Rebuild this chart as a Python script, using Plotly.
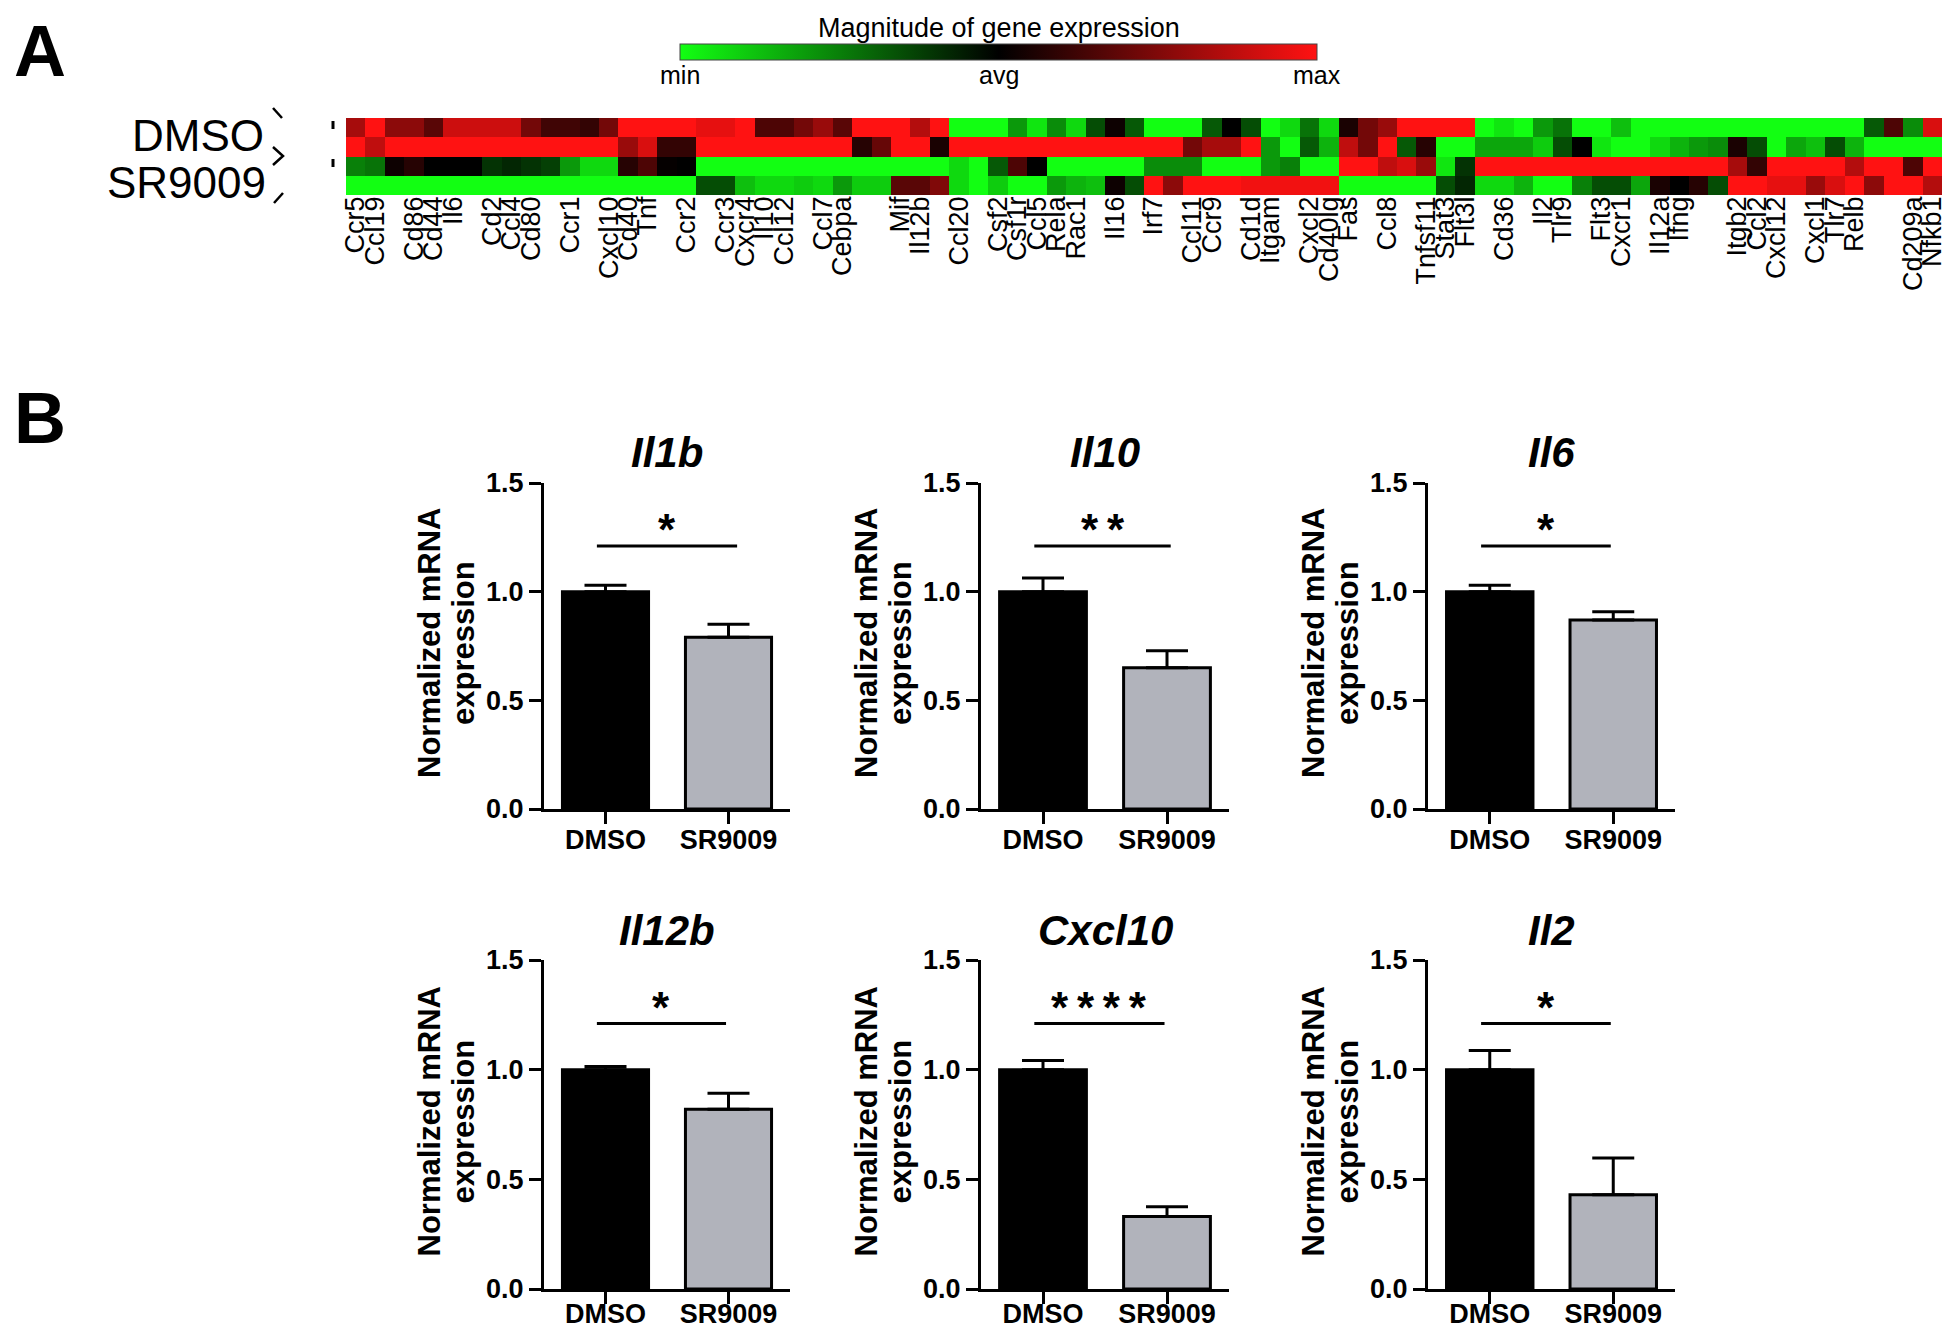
import plotly.graph_objects as go

# page is 1950x1333; the browser body offsets the figure by 8px (top/left)
OFF = 8
W, H = 1950 - OFF, 1333 - OFF
FONT = "Liberation Sans, Arial, Helvetica, sans-serif"

# ---------------- Panel A data: clustergram (4 samples x 82 genes) ----------------
gene_labels = [
    "Ccr5", "Ccl19", "", "Cd86", "Cd44", "Il6", "", "Cd2", "Ccl4", "Cd80",
    "", "Ccr1", "", "Cxcl10", "Cd40", "Tnf", "", "Ccr2", "", "Ccr3",
    "Cxcr4", "Il10", "Ccl12", "", "Ccl7", "Cebpa", "", "", "Mif", "Il12b",
    "", "Ccl20", "", "Csf2", "Csf1r", "Ccl5", "Rela", "Rac1", "", "Il16",
    "", "Irf7", "", "Ccl11", "Ccr9", "", "Cd1d", "Itgam", "", "Cxcl2",
    "Cd40lg", "Fas", "", "Ccl8", "", "Tnfsf11", "Stat3", "Flt3l", "", "Cd36",
    "", "Il2", "Tlr9", "", "Flt3", "Cxcr1", "", "Il12a", "Ifng", "",
    "", "Itgb2", "Ccl2", "Cxcl12", "", "Cxcl1", "Tlr7", "Relb", "", "",
    "Cd209a", "Nfkb1",
]

dmso_1 = [
    0.65, 1.0, 0.55, 0.55, 0.35, 0.8, 0.8, 0.8, 0.8, 0.45,
    0.25, 0.25, 0.2, 0.45, 1.0, 1.0, 1.0, 1.0, 0.9, 0.9,
    1.0, 0.3, 0.3, 0.45, 0.6, 0.35, 1.0, 1.0, 1.0, 0.7,
    1.0, -1.0, -1.0, -1.0, -0.6, -0.9, -0.55, -0.85, -0.3, 0.05,
    -0.35, -1.0, -1.0, -1.0, -0.35, 0.0, -0.3, -1.0, -0.85, -0.45,
    -0.85, 0.1, 0.45, 0.6, 1.0, 1.0, 1.0, 1.0, -1.0, -0.9,
    -1.0, -0.6, -0.45, -1.0, -1.0, -0.75, -1.0, -1.0, -1.0, -1.0,
    -1.0, -1.0, -1.0, -1.0, -1.0, -1.0, -1.0, -1.0, -0.35, 0.3,
    -0.55, 0.85,
]
dmso_2 = [
    1.0, 0.75, 1.0, 1.0, 1.0, 1.0, 1.0, 1.0, 1.0, 1.0,
    1.0, 1.0, 1.0, 1.0, 0.6, 0.85, 0.2, 0.2, 1.0, 1.0,
    1.0, 1.0, 1.0, 1.0, 1.0, 1.0, 0.15, 0.4, 1.0, 1.0,
    0.1, 1.0, 1.0, 1.0, 1.0, 1.0, 1.0, 1.0, 1.0, 1.0,
    1.0, 1.0, 1.0, 0.45, 0.65, 0.65, 1.0, -0.6, -1.0, -0.35,
    -0.7, 0.75, 0.45, 1.0, -0.35, 0.15, -1.0, -1.0, -0.65, -0.65,
    -0.65, -0.8, -0.3, 0.0, -0.9, -1.0, -1.0, -0.85, -0.7, -0.6,
    -0.55, 0.1, -0.3, -1.0, -0.65, -0.75, -0.3, -0.7, -1.0, -1.0,
    -1.0, -1.0,
]
sr9009_1 = [
    -0.5, -0.45, 0.05, 0.15, 0.0, 0.0, 0.0, -0.2, -0.15, -0.2,
    -0.25, -0.6, -0.85, -0.85, 0.15, 0.3, 0.02, 0.0, -1.0, -1.0,
    -1.0, -1.0, -1.0, -1.0, -1.0, -1.0, -1.0, -1.0, -1.0, -1.0,
    -1.0, -0.85, -1.0, -0.35, 0.3, 0.0, -1.0, -1.0, -1.0, -1.0,
    -1.0, -0.55, -0.55, -0.55, -1.0, -1.0, -1.0, -0.6, -0.5, -1.0,
    -1.0, 1.0, 1.0, 0.75, 0.85, 0.6, -0.9, -0.2, 1.0, 1.0,
    1.0, 1.0, 1.0, 1.0, 1.0, 1.0, 1.0, 1.0, 1.0, 1.0,
    1.0, 0.65, 0.2, 1.0, 1.0, 1.0, 1.0, 0.7, 1.0, 1.0,
    0.3, 1.0,
]
sr9009_2 = [
    -1.0, -1.0, -1.0, -1.0, -1.0, -1.0, -1.0, -1.0, -1.0, -1.0,
    -1.0, -1.0, -1.0, -1.0, -1.0, -1.0, -1.0, -1.0, -0.3, -0.3,
    -0.75, -0.85, -0.85, -0.8, -0.85, -0.6, -0.8, -0.8, 0.35, 0.35,
    0.5, -0.85, -1.0, -0.8, -1.0, -1.0, -0.6, -0.7, -0.75, 0.05,
    -0.3, 1.0, 0.55, 1.0, 1.0, 1.0, 0.95, 0.95, 0.95, 0.95,
    0.95, -1.0, -1.0, -1.0, -1.0, -1.0, -0.3, -0.15, -0.85, -0.85,
    -0.7, -1.0, -1.0, -0.5, -0.3, -0.3, -0.65, 0.1, 0.0, 0.15,
    -0.3, 1.0, 1.0, 0.9, 0.9, 0.6, 0.85, 1.0, 0.55, 1.0,
    1.0, 0.7,
]
sample_rows = ["DMSO", "DMSO", "SR9009", "SR9009"]
scale_ticks = ["min", "avg", "max"]

# ---------------- Panel B data: qPCR bar charts ----------------
panel_genes = ["Il1b", "Il10", "Il6", "Il12b", "Cxcl10", "Il2"]
groups = ["DMSO", "SR9009"]
dmso_mean = [1.0, 1.0, 1.0, 1.0, 1.0, 1.0]
sr_mean = [0.79, 0.65, 0.87, 0.82, 0.33, 0.43]
dmso_sem = [0.03, 0.063, 0.03, 0.015, 0.042, 0.087]
sr_sem = [0.06, 0.078, 0.038, 0.073, 0.045, 0.167]
signif = ["*", "**", "*", "*", "****", "*"]
sig_level = 1.21
y_ticks = [0.0, 0.5, 1.0, 1.5]


def px(x):
    """page x pixel -> paper fraction"""
    return (x - OFF) / W


def py(y):
    """page y pixel -> paper fraction"""
    return 1 - (y - OFF) / H


fig = go.Figure()

# ---------- heatmap ----------
ncol = len(gene_labels)
fig.add_trace(go.Heatmap(
    z=[dmso_1, dmso_2, sr9009_1, sr9009_2],
    x=list(range(ncol)),
    y=list(range(len(sample_rows))),
    zmin=-1, zmax=1,
    colorscale=[[0, "#12ff12"], [0.5, "#000000"], [1, "#ff1212"]],
    xaxis="x", yaxis="y",
    hoverinfo="skip",
    colorbar=dict(
        orientation="h",
        lenmode="pixels", len=637,
        thicknessmode="pixels", thickness=16,
        x=px(998.5), xanchor="center",
        y=py(44), yanchor="top",
        xpad=0, ypad=0,
        outlinewidth=1, outlinecolor="#444",
        tickvals=[-1, 0, 1], ticks="", showticklabels=False,
    ),
))

layout = dict(
    width=W, height=H,
    margin=dict(l=0, r=0, t=0, b=0, autoexpand=False),
    paper_bgcolor="white", plot_bgcolor="white",
    showlegend=False,
    font=dict(family=FONT, color="black"),
    xaxis=dict(
        domain=[px(346), px(1942)], range=[-0.5, ncol - 0.5],
        tickvals=list(range(ncol)), ticktext=gene_labels,
        tickangle=-90, ticks="", showgrid=False, zeroline=False,
        showline=False, anchor="y", ticklabelstandoff=-5,
        tickfont=dict(family=FONT, size=27, color="black"),
    ),
    yaxis=dict(
        domain=[py(195), py(118)], range=[len(sample_rows) - 0.5, -0.5],
        showticklabels=False, showgrid=False, zeroline=False, anchor="x",
    ),
)

annotations = [
    dict(text="<b>A</b>", x=px(12), y=py(9), xref="paper", yref="paper",
         showarrow=False, font=dict(family=FONT, size=72, color="black"),
         xanchor="left", yanchor="top"),
    dict(text="<b>B</b>", x=px(12), y=py(418), xref="paper", yref="paper",
         showarrow=False, font=dict(family=FONT, size=72, color="black"),
         xanchor="left", yanchor="middle"),
    dict(text="Magnitude of gene expression", x=px(998.5), y=py(28),
         xref="paper", yref="paper", showarrow=False,
         font=dict(family=FONT, size=27, color="black"),
         xanchor="center", yanchor="middle"),
    dict(text=sample_rows[0], x=px(266), y=py(135), xref="paper", yref="paper",
         showarrow=False, font=dict(family=FONT, size=44, color="black"),
         xanchor="right", yanchor="middle"),
    dict(text=sample_rows[2], x=px(268), y=py(183), xref="paper", yref="paper",
         showarrow=False, font=dict(family=FONT, size=44, color="black"),
         xanchor="right", yanchor="middle"),
]
# min / avg / max labels under the colour scale
for lab, xx in zip(scale_ticks, [680, 998.5, 1317]):
    annotations.append(dict(text=lab, x=px(xx), y=py(75), xref="paper", yref="paper",
                            showarrow=False, xanchor="center", yanchor="middle",
                            font=dict(family=FONT, size=25, color="black")))

shapes = []
# bracket marks next to row labels
bracket_paths = [
    [(273, 108), (282, 118)],
    [(273, 147), (283, 156), (273, 165)],
    [(283, 193), (274, 203)],
]
for pts in bracket_paths:
    d = "M " + " L ".join(f"{px(a)},{py(b)}" for a, b in pts)
    shapes.append(dict(type="path", path=d, xref="paper", yref="paper",
                       line=dict(color="black", width=2.5)))
for (y0, y1) in [(121, 129), (159, 167)]:
    shapes.append(dict(type="line", x0=px(333), x1=px(333), y0=py(y0), y1=py(y1),
                       xref="paper", yref="paper", line=dict(color="black", width=3)))

# ---------- bar panels ----------
col_x = [(544, 790), (981, 1229), (1428, 1675)]
row_y = [(483, 809), (960, 1289)]
row_standoff = [-7, -13]
sig_end = [1.07, 1.03, 0.98, 0.98, 0.98, 0.98]
tickfont_b = dict(family=FONT, size=27, color="black", weight="bold")
ytitle_font = dict(family=FONT, size=31, color="black", weight="bold")

for i, g in enumerate(panel_genes):
    r, c = divmod(i, 3)
    xa, ya = f"x{i + 2}", f"y{i + 2}"
    xl, yl = f"xaxis{i + 2}", f"yaxis{i + 2}"
    x0p, x1p = col_x[c]
    ytop, ybot = row_y[r]
    fig.add_trace(go.Bar(
        x=groups, y=[dmso_mean[i], sr_mean[i]],
        xaxis=xa, yaxis=ya, width=0.7,
        marker=dict(color=["#000000", "#b1b3bb"], line=dict(color="black", width=3)),
        error_y=dict(type="data", array=[dmso_sem[i], sr_sem[i]], arrayminus=[0, 0],
                     symmetric=False, thickness=3, width=21, color="black"),
        hoverinfo="skip",
    ))
    layout[xl] = dict(
        domain=[px(x0p), px(x1p)], anchor=ya, type="category", range=[-0.5, 1.5],
        showline=True, linewidth=3, linecolor="black",
        ticks="outside", ticklen=12, tickwidth=3, tickcolor="black",
        ticklabelstandoff=row_standoff[r],
        tickfont=tickfont_b, showgrid=False, zeroline=False,
    )
    layout[yl] = dict(
        domain=[py(ybot), py(ytop)], anchor=xa, range=[0, 1.5],
        tickvals=y_ticks, ticktext=[f"{v:.1f}" for v in y_ticks],
        showline=True, linewidth=3, linecolor="black",
        ticks="outside", ticklen=12, tickwidth=3, tickcolor="black",
        tickfont=tickfont_b, showgrid=False, zeroline=False,
    )
    # significance bar + stars
    shapes.append(dict(type="line", xref=xa, yref=ya, x0=-0.07, x1=sig_end[i],
                       y0=sig_level, y1=sig_level, line=dict(color="black", width=3)))
    annotations.append(dict(
        text="\u2009".join(signif[i]), xref=xa, yref=ya,
        x=(-0.07 + sig_end[i]) / 2, y=sig_level + 0.075,
        showarrow=False, xanchor="center", yanchor="middle",
        font=dict(family=FONT, size=44, color="black", weight="bold"),
    ))
    # panel title
    annotations.append(dict(
        text=g, xref="paper", yref="paper", x=px((x0p + x1p) / 2), y=py(ytop - 30),
        showarrow=False, xanchor="center", yanchor="middle",
        font=dict(family=FONT, size=42, color="black", weight="bold", style="italic"),
    ))
    # y-axis title (two lines)
    ymid = (ytop + ybot) / 2 - 3
    for txt, dx in [("Normalized mRNA", -115), ("expression", -81)]:
        annotations.append(dict(
            text=txt, xref="paper", yref="paper",
            x=px(x0p + dx), y=py(ymid), textangle=-90,
            showarrow=False, xanchor="center", yanchor="middle",
            font=ytitle_font,
        ))

layout["annotations"] = annotations
layout["shapes"] = shapes
fig.update_layout(**layout)
fig.write_html("out.html")
